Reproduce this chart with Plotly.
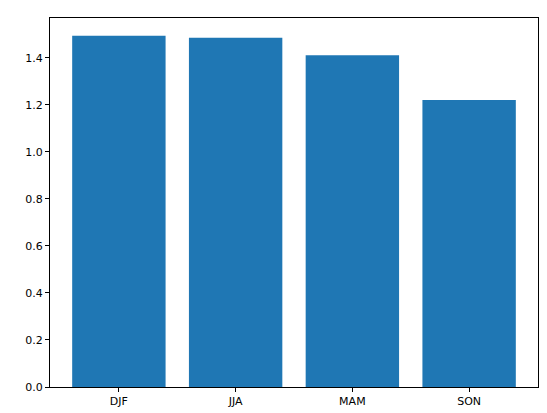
import plotly.graph_objects as go

seasons = ['DJF', 'JJA', 'MAM', 'SON']
values = [1.495, 1.486, 1.412, 1.221]

fig = go.Figure(go.Bar(x=seasons, y=values, marker_color='#1f77b4',
                       marker_line_width=0, width=0.8))

axis_style = dict(showline=True, linecolor='black', linewidth=1, mirror=True,
                  ticks='outside', ticklen=4, tickcolor='black',
                  showgrid=False, zeroline=False,
                  tickfont=dict(family='DejaVu Sans', size=11, color='black'))

fig.update_xaxes(range=[-0.59, 3.59], **axis_style)
fig.update_yaxes(range=[0, 1.57], tickvals=[0, 0.2, 0.4, 0.6, 0.8, 1.0, 1.2, 1.4],
                 ticktext=['0.0', '0.2', '0.4', '0.6', '0.8', '1.0', '1.2', '1.4'],
                 **axis_style)

fig.update_layout(width=547, height=413, plot_bgcolor='white', paper_bgcolor='white',
                  margin=dict(l=42, r=17, t=10, b=34), showlegend=False)

fig.write_html('out.html')
